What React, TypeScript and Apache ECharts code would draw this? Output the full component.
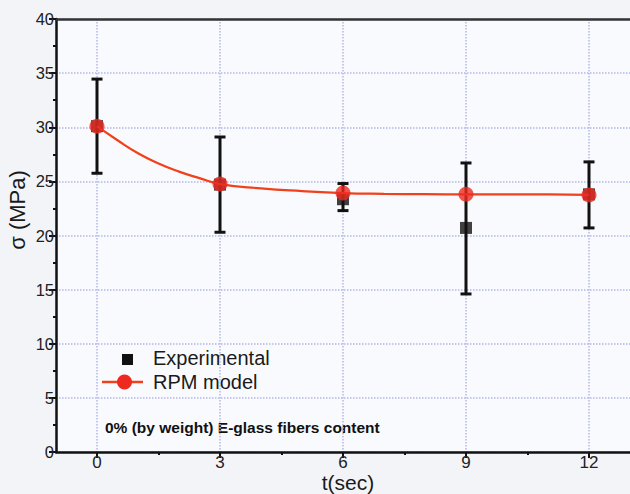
import React, { useEffect, useRef } from "react";
import * as echarts from "echarts";

// ---- data ----
const tickValuesX = [0, 3, 6, 9, 12];
const minorTickValuesX = [1.5, 4.5, 7.5, 10.5];

const expTime = [0, 3, 6, 9, 12];
const expMean = [30.1, 24.7, 23.35, 20.7, 23.8];
const expLow = [25.75, 20.3, 22.3, 14.6, 20.7];
const expHigh = [34.45, 29.1, 24.8, 26.7, 26.8];

const modelMarkerTime = [0, 3, 6, 9, 12];
const modelMarkerValue = [30.1, 24.75, 23.92, 23.8, 23.75];

const modelCurveTime = [0, 0.5, 1, 1.5, 2, 2.5, 3, 4, 5, 6, 7, 8, 9, 10, 11, 12];
const modelCurveValue = [30.1, 28.8, 27.6, 26.65, 25.9, 25.3, 24.75, 24.35, 24.1, 23.92, 23.85, 23.82, 23.8, 23.8, 23.8, 23.75];

const FONT = "'Liberation Sans', Arial, sans-serif";
const RED = "#ee2a20";
const LINE_RED = "#f0401c";
const GRID_COLOR = "#b3b8e6";

export default function App() {
  const ref = useRef<HTMLDivElement>(null);

  useEffect(() => {
    if (!ref.current) return;
    const chart = echarts.init(ref.current, undefined, { renderer: "svg" });

    const errData = expTime.map((t, i) => [t, expLow[i], expHigh[i]]);
    const expData = expTime.map((t, i) => [t, expMean[i]]);
    const markerData = modelMarkerTime.map((t, i) => [t, modelMarkerValue[i]]);
    const curveData = modelCurveTime.map((t, i) => [t, modelCurveValue[i]]);

    const option: any = {
      animation: false,
      backgroundColor: "#f3f4f8",
      textStyle: { fontFamily: FONT },
      grid: {
        left: 56,
        top: 19,
        width: 577.5,
        height: 433,
        show: true,
        backgroundColor: "#f9fafd",
        borderWidth: 0,
      },
      xAxis: [
        {
          type: "value",
          position: "bottom",
          min: -1,
          max: 13,
          axisLine: { show: true, onZero: false, lineStyle: { color: "#111", width: 2.5 } },
          axisTick: { show: true, customValues: tickValuesX, length: 6, lineStyle: { color: "#111", width: 2 } },
          axisLabel: {
            show: true,
            customValues: tickValuesX,
            fontSize: 17,
            color: "#222",
            fontFamily: FONT,
            margin: 2,
          },
          splitLine: { show: true, lineStyle: { color: GRID_COLOR, type: "dotted", width: 1.5 } },
        },
        {
          type: "value",
          position: "bottom",
          min: -1,
          max: 13,
          axisLine: { show: false },
          axisTick: { show: true, customValues: minorTickValuesX, length: 3, lineStyle: { color: "#111", width: 2 } },
          axisLabel: { show: false },
          splitLine: { show: false },
        },
        {
          type: "value",
          position: "top",
          min: -1,
          max: 13,
          axisLine: { show: true, onZero: false, lineStyle: { color: "#333", width: 2.5 } },
          axisTick: { show: false },
          axisLabel: { show: false },
          splitLine: { show: false },
        },
      ],
      yAxis: {
        type: "value",
        min: 0,
        max: 40,
        interval: 5,
        axisLine: { show: true, onZero: false, lineStyle: { color: "#111", width: 2.5 } },
        axisTick: { show: true, length: 7, lineStyle: { color: "#111", width: 2 } },
        minorTick: { show: true, splitNumber: 2, length: 3, lineStyle: { color: "#111", width: 2 } },
        axisLabel: { show: true, fontSize: 16.5, color: "#222", fontFamily: FONT, margin: 2 },
        splitLine: { show: true, lineStyle: { color: GRID_COLOR, type: "dotted", width: 1.5 } },
      },
      series: [
        {
          name: "error",
          type: "custom",
          xAxisIndex: 0,
          z: 2,
          data: errData,
          renderItem: (params: any, api: any) => {
            const x = api.value(0);
            const lo = api.coord([x, api.value(1)]);
            const hi = api.coord([x, api.value(2)]);
            const hw = 5.5;
            const style = { stroke: "#111", lineWidth: 3 };
            return {
              type: "group",
              children: [
                { type: "line", shape: { x1: lo[0], y1: lo[1], x2: hi[0], y2: hi[1] }, style },
                { type: "line", shape: { x1: hi[0] - hw, y1: hi[1], x2: hi[0] + hw, y2: hi[1] }, style },
                { type: "line", shape: { x1: lo[0] - hw, y1: lo[1], x2: lo[0] + hw, y2: lo[1] }, style },
              ],
            };
          },
        },
        {
          name: "Experimental",
          type: "scatter",
          z: 3,
          symbol: "rect",
          symbolSize: 12,
          itemStyle: { color: "#111" },
          data: expData,
        },
        {
          name: "RPM model curve",
          type: "line",
          z: 4,
          smooth: true,
          showSymbol: false,
          symbol: "none",
          lineStyle: { color: LINE_RED, width: 2.2 },
          data: curveData,
        },
        {
          name: "RPM model",
          type: "scatter",
          z: 5,
          symbol: "circle",
          symbolSize: 15,
          itemStyle: { color: RED },
          data: markerData,
        },
      ],
      graphic: [
        {
          type: "text",
          x: 17,
          y: 210,
          rotation: Math.PI / 2,
          style: {
            text: "σ (MPa)",
            font: `22px ${FONT}`,
            fill: "#1a1a1a",
            textAlign: "center",
            textVerticalAlign: "middle",
          },
        },
        {
          type: "text",
          x: 348,
          y: 482,
          style: {
            text: "t(sec)",
            font: `21px ${FONT}`,
            fill: "#1a1a1a",
            textAlign: "center",
            textVerticalAlign: "middle",
          },
        },
        {
          type: "rect",
          shape: { x: 122, y: 354, width: 11, height: 11 },
          style: { fill: "#111" },
        },
        {
          type: "text",
          x: 153,
          y: 358,
          style: {
            text: "Experimental",
            font: `20px ${FONT}`,
            fill: "#1a1a1a",
            textVerticalAlign: "middle",
          },
        },
        {
          type: "line",
          shape: { x1: 102, y1: 382, x2: 143, y2: 382 },
          style: { stroke: LINE_RED, lineWidth: 2.5 },
        },
        {
          type: "circle",
          shape: { cx: 124.5, cy: 382, r: 7.5 },
          style: { fill: RED },
        },
        {
          type: "text",
          x: 153,
          y: 382,
          style: {
            text: "RPM model",
            font: `20px ${FONT}`,
            fill: "#1a1a1a",
            textVerticalAlign: "middle",
          },
        },
        {
          type: "text",
          x: 105,
          y: 427,
          style: {
            text: "0% (by weight) E-glass fibers content",
            font: `bold 15.5px ${FONT}`,
            fill: "#111",
            textVerticalAlign: "middle",
          },
        },
      ],
    };

    chart.setOption(option);
    return () => chart.dispose();
  }, []);

  return (
    <div
      ref={ref}
      style={{ position: "absolute", left: 0, top: 0, width: 630, height: 494 }}
    />
  );
}
